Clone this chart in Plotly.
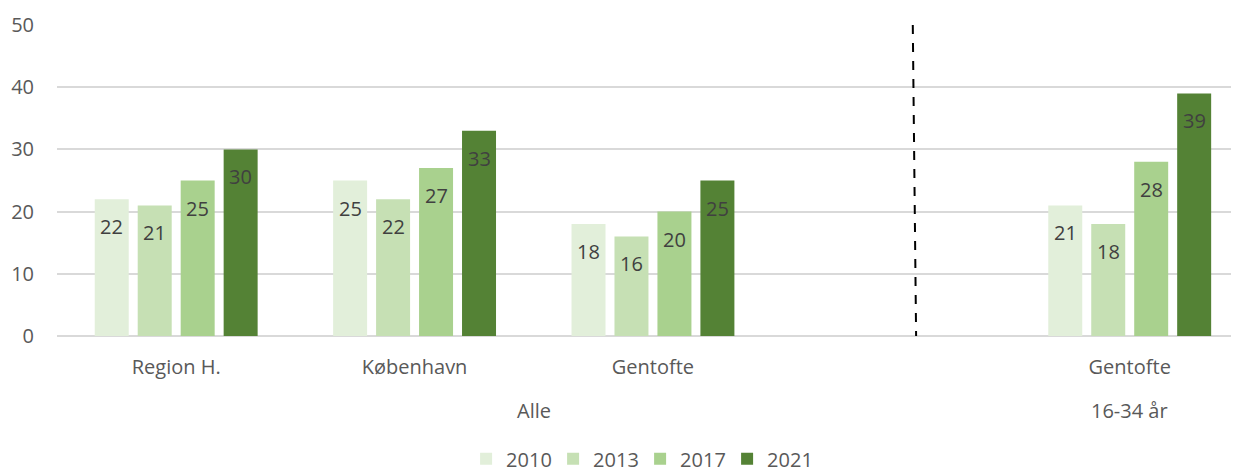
import plotly.graph_objects as go

categories = ["Region H.", "København", "Gentofte", "Gentofte"]
positions = [0, 1, 2, 4]
series_names = ["2010", "2013", "2017", "2021"]
values = {
    "2010": [22, 25, 18, 21],
    "2013": [21, 22, 16, 18],
    "2017": [25, 27, 20, 28],
    "2021": [30, 33, 25, 39],
}
colors = {"2010": "#E2EFDA", "2013": "#C6E0B4", "2017": "#A9D18E", "2021": "#548235"}
group_labels = ["Alle", "16-34 år"]
group_centers = [1.5, 4]
divider_x = 3.09

FONT = "Open Sans"
FS = 20
BARGAP = 0.279
BARGROUPGAP = 0.209

fig = go.Figure()
n = len(series_names)
slot = (1 - BARGAP) / n
for i, s in enumerate(series_names):
    fig.add_trace(go.Bar(
        x=positions, y=values[s], name=s,
        marker=dict(color=colors[s], line=dict(width=0)),
        hoverinfo="x+y+name",
    ))
    # data labels placed just inside the top of each bar
    for p, v in zip(positions, values[s]):
        cx = p - (1 - BARGAP) / 2 + slot * (i + 0.5)
        fig.add_annotation(x=cx, y=v, xref="x", yref="y", text=str(v),
                           showarrow=False, yanchor="top", yshift=-12,
                           font=dict(family=FONT, size=FS, color="#404040"))

fig.add_shape(type="line", xref="x", yref="y", x0=divider_x, x1=divider_x + 0.014,
              y0=50, y1=-0.3, line=dict(color="black", width=2, dash="dash"))

for lab, cx in zip(group_labels, group_centers):
    fig.add_annotation(text=lab, x=cx, xref="x", y=-0.241, yref="paper",
                       showarrow=False, yanchor="middle",
                       font=dict(family=FONT, size=FS, color="#595959"))

fig.update_layout(
    width=1239, height=473,
    margin=dict(l=49, r=0, t=16.5, b=145, autoexpand=False),
    plot_bgcolor="white", paper_bgcolor="white",
    barmode="group", bargap=BARGAP, bargroupgap=BARGROUPGAP,
    font=dict(family=FONT, size=FS, color="#595959"),
    showlegend=True,
    legend=dict(orientation="h", x=0.49, xanchor="center", y=-0.395, yanchor="middle",
                font=dict(family=FONT, size=FS, color="#595959"),
                itemwidth=30, tracegroupgap=0, entrywidth=42, entrywidthmode="pixels"),
    xaxis=dict(range=[-0.5, 4.492], tickvals=positions, ticktext=categories,
               showgrid=False, zeroline=False, showline=False, ticks="", automargin=False,
               ticklabelstandoff=17, tickfont=dict(family=FONT, size=FS, color="#595959")),
    yaxis=dict(range=[0, 50], dtick=10, showgrid=True, gridcolor="#D9D9D9", gridwidth=1.5,
               zeroline=True, zerolinecolor="#D9D9D9", zerolinewidth=1.5,
               ticks="", ticklabelstandoff=22, automargin=False,
               tickfont=dict(family=FONT, size=FS, color="#595959")),
)

fig.write_html("out.html")
